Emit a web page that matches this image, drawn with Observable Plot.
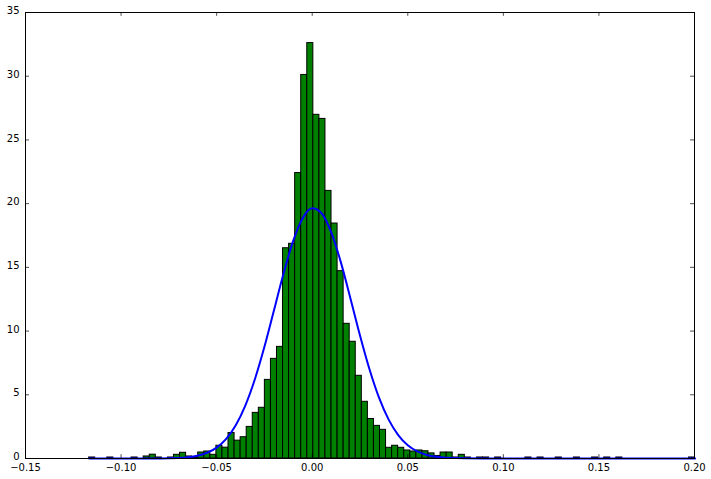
<!DOCTYPE html>
<html>
<head>
<meta charset="utf-8">
<script src="https://cdn.jsdelivr.net/npm/d3@7"></script>
<script src="https://cdn.jsdelivr.net/npm/@observablehq/plot@0.6"></script>
<style>
  html, body { margin: 0; padding: 0; background: #fff; }
  #chart svg { display: block; }
</style>
</head>
<body>
<div id="chart"></div>
<script>
// Histogram: 100 bins, density-normalised heights
const binStart = -0.1167;
const binWidth = 0.00317;
const binHeights = [
  0.08, 0, 0, 0.08, 0, 0, 0, 0.08, 0, 0.16,
  0.3, 0.08, 0, 0.08, 0.29, 0.45, 0.16, 0.08, 0.47, 0.55,
  0.29, 1.0, 0.85, 2.0, 1.4, 1.67, 2.48, 3.58, 3.98, 6.17,
  7.82, 8.76, 16.5, 16.85, 22.4, 30.1, 32.6, 26.97, 26.65, 21.0,
  18.44, 14.7, 10.57, 9.16, 6.49, 4.45, 3.1, 2.56, 2.25, 0.84,
  1.0, 0.84, 0.63, 0.55, 0.63, 0.57, 0.4, 0.2, 0.47, 0.47,
  0.08, 0.29, 0.08, 0, 0.08, 0.08, 0, 0.08, 0, 0,
  0, 0, 0.08, 0, 0.08, 0, 0, 0.08, 0, 0,
  0.08, 0, 0, 0.08, 0, 0.08, 0, 0.08, 0, 0,
  0, 0, 0, 0, 0, 0, 0, 0, 0, 0.08
];

// Fitted normal curve
const curveX = [-0.1167, -0.09, -0.07, -0.065, -0.06, -0.055, -0.05, -0.045, -0.04, -0.035,
  -0.03, -0.025, -0.02, -0.015, -0.01, -0.005, 0, 0.005, 0.01, 0.015,
  0.02, 0.025, 0.03, 0.035, 0.04, 0.045, 0.05, 0.055, 0.06, 0.065,
  0.07, 0.09, 0.2003];
const curveY = [0, 0.003, 0.045, 0.103, 0.222, 0.45, 0.858, 1.542, 2.607, 4.15,
  6.215, 8.762, 11.63, 14.52, 17.06, 18.86, 19.63, 19.23, 17.73, 15.39,
  12.56, 9.65, 6.98, 4.75, 3.05, 1.84, 1.04, 0.557, 0.28, 0.132,
  0.059, 0.003, 0];

const xTicks = [-0.15, -0.10, -0.05, 0.00, 0.05, 0.10, 0.15, 0.20];
const yTicks = [0, 5, 10, 15, 20, 25, 30, 35];

const bins = binHeights
  .map((h, i) => ({x1: binStart + i * binWidth, x2: binStart + (i + 1) * binWidth, h}))
  .filter(d => d.h > 0);
const curve = curveX.map((x, i) => ({x, y: curveY[i]}));

const xMin = -0.15, xMax = 0.20, yMin = 0, yMax = 35;
const xTickLen = 0.3;     // in y units
const yTickLen = 0.0021;  // in x units

const chart = Plot.plot({
  width: 711,
  height: 479,
  marginLeft: 25,
  marginRight: 17,
  marginTop: 12,
  marginBottom: 21,
  style: {fontFamily: "DejaVu Sans", fontSize: "10px", color: "black", background: "white"},
  x: {domain: [xMin, xMax]},
  y: {domain: [yMin, yMax]},
  marks: [
    Plot.rectY(bins, {x1: "x1", x2: "x2", y: "h", fill: "#008000", stroke: "black", strokeWidth: 1, inset: 0}),
    Plot.line(curve, {x: "x", y: "y", stroke: "#0000ff", strokeWidth: 2, curve: "monotone-x"}),
    // inward ticks (bottom, top, left, right)
    Plot.ruleX(xTicks, {x: d => d, y1: yMin, y2: yMin + xTickLen, stroke: "black", strokeWidth: 0.7}),
    Plot.ruleX(xTicks, {x: d => d, y1: yMax, y2: yMax - xTickLen, stroke: "black", strokeWidth: 0.7}),
    Plot.ruleY(yTicks, {y: d => d, x1: xMin, x2: xMin + yTickLen, stroke: "black", strokeWidth: 0.7}),
    Plot.ruleY(yTicks, {y: d => d, x1: xMax, x2: xMax - yTickLen, stroke: "black", strokeWidth: 0.7}),
    Plot.axisX({ticks: xTicks, tickSize: 0, tickPadding: 5, tickFormat: d3.format(".2f"), label: null}),
    Plot.axisY({ticks: yTicks, tickSize: 0, tickPadding: 6, dy: -1.5, tickFormat: d => String(d), label: null}),
    Plot.frame({stroke: "black", strokeWidth: 1})
  ]
});
document.getElementById("chart").appendChild(chart);
</script>
</body>
</html>
